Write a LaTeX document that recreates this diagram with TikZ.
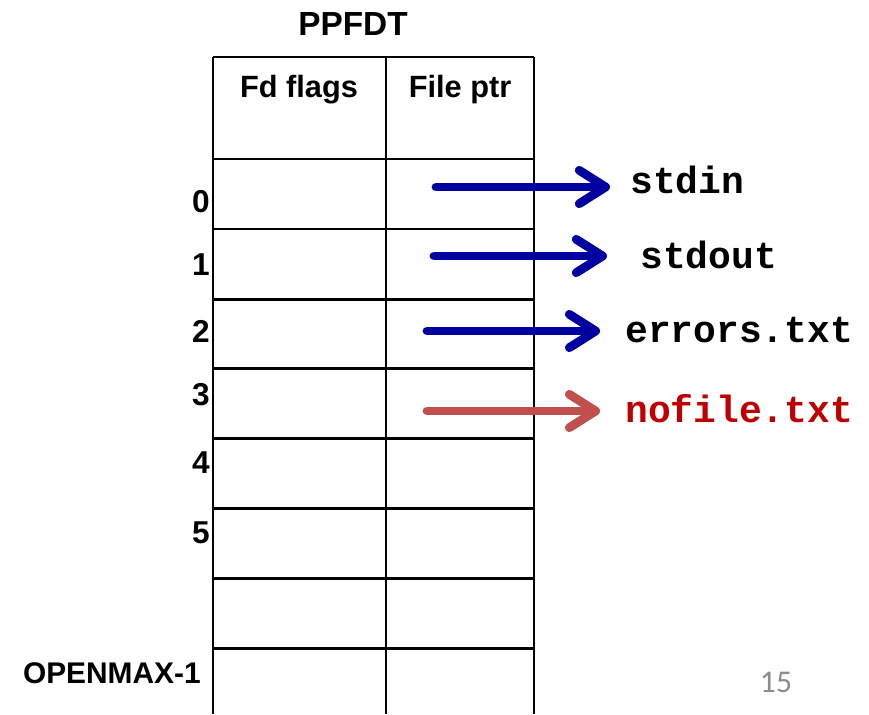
\documentclass[tikz,border=0pt]{standalone}
\usepackage{fontspec}
\setmainfont{Liberation Sans}
\newfontfamily\codefont{Liberation Mono}
\newfontfamily\slidefont{Carlito}
\usetikzlibrary{arrows.meta}
\definecolor{ptrblue}{RGB}{0,0,160}
\definecolor{ptrred}{RGB}{192,80,77}
\definecolor{badred}{RGB}{192,0,0}

\tikzset{
  rowlabel/.style={anchor=base east, inner sep=0pt, font=\fontsize{18}{20}\selectfont\bfseries},
  colhead/.style={anchor=base, inner sep=0pt, font=\fontsize{17.5}{20}\selectfont\bfseries},
  fname/.style={anchor=base west, inner sep=0pt, font=\fontsize{21.6}{24}\selectfont\codefont\bfseries},
  fdarrow/.style={line width=5pt, ptrblue, line cap=round,
    -{Straight Barb[length=15pt,width=19pt,round]}},
}

\begin{document}
\begin{tikzpicture}[x=0.02cm, y=-0.02cm]
  \useasboundingbox (0,0) rectangle (869,714);

  %%%%% table %%%%%
  \node[anchor=base, inner sep=0pt, font=\fontsize{19}{22}\selectfont\bfseries] (title) at (353,35) {PPFDT};
  \foreach \x in {213,386,534}
    \draw[line width=1.7pt] (\x,57) -- (\x,714);
  \foreach \y in {57,159,229,299,368,438,508,578,648}
    \draw[line width=1.7pt] (213,\y) -- (534,\y);
  \node[colhead] (flags) at (299,97) {Fd flags};
  \node[colhead] (fptr) at (460,97) {File ptr};

  %%%%% descriptors %%%%%
  \foreach \n/\y in {0/212,1/275,2/342,3/405,4/473,5/543}
    \node[rowlabel] (fd\n) at (210,\y) {\n};
  \node[rowlabel, font=\fontsize{17}{20}\selectfont\bfseries] (fdmax) at (201,683) {OPENMAX-1};

  %%%%% open files %%%%%
  \coordinate (s0) at (436,187);
  \coordinate (s1) at (434,256);
  \coordinate (s2) at (427,331);
  \coordinate (s3) at (427,411);
  \node[fname] (f0) at (630,193) {stdin};
  \node[fname] (f1) at (640,268) {stdout};
  \node[fname] (f2) at (625,342) {errors.txt};
  \node[fname, text=badred] (f3) at (625,422) {nofile.txt};

  \draw[fdarrow, shorten >=11.4pt] (s0) -- (s0 -| f0.west);
  \draw[fdarrow, shorten >=18.8pt] (s1) -- (s1 -| f1.west);
  \draw[fdarrow, shorten >=14.2pt] (s2) -- (s2 -| f2.west);
  \draw[fdarrow, ptrred, shorten >=14.2pt] (s3) -- (s3 -| f3.west);

  \node[anchor=base, inner sep=0pt, text=black!45, font=\fontsize{18}{20}\selectfont\slidefont] (page) at (776,692) {15};
\end{tikzpicture}
\end{document}
